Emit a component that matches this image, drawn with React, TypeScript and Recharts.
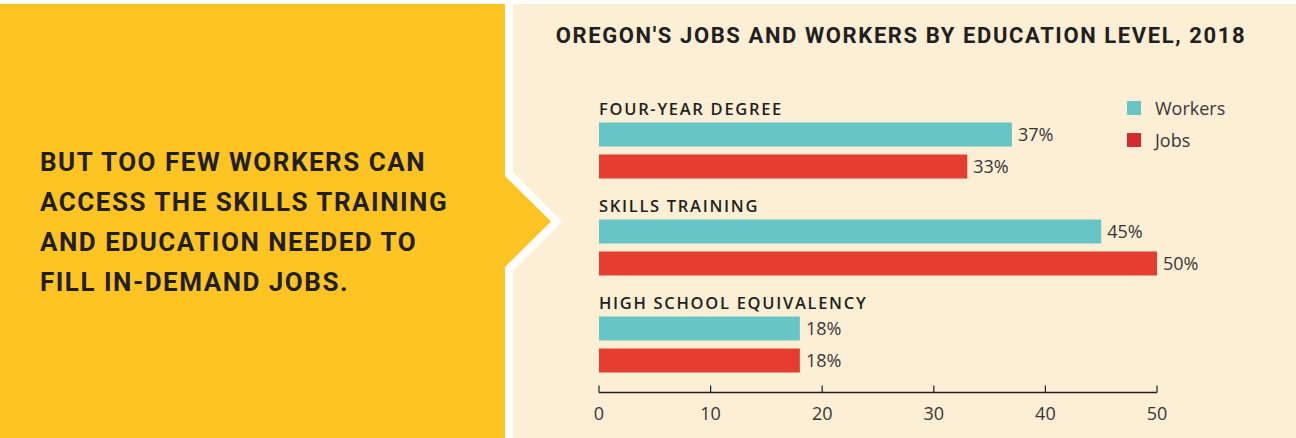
import React from 'react';
import { BarChart, Bar, XAxis, YAxis, LabelList } from 'recharts';

const categories = ['FOUR-YEAR DEGREE', 'SKILLS TRAINING', 'HIGH SCHOOL EQUIVALENCY'];
const workers = [37, 45, 18];
const jobs = [33, 50, 18];
const xTicks = [0, 10, 20, 30, 40, 50];
const title = "OREGON'S JOBS AND WORKERS BY EDUCATION LEVEL, 2018";
const sideLines = [
  'BUT TOO FEW WORKERS CAN',
  'ACCESS THE SKILLS TRAINING',
  'AND EDUCATION NEEDED TO',
  'FILL IN-DEMAND JOBS.',
];
const legendItems = ['Workers', 'Jobs'];

const data = categories.map((c, i) => ({ category: c, Workers: workers[i], Jobs: jobs[i] }));

const TEAL = '#67C6C5';
const RED = '#E63D31';
const RED_LEGEND = '#D52B2E';
const YELLOW = '#FEC423';
const CREAM = '#FDEFD5';
const DARK = '#231F20';
const NUM = '#3A3536';
const legendColors = [TEAL, RED_LEGEND];

const XTick = (props: any) => {
  const { x, y, payload } = props;
  return (
    <g>
      <line x1={x} x2={x} y1={y - 7} y2={y} stroke={DARK} strokeWidth={1.2} />
      <text x={x} y={y + 27} textAnchor="middle" fontFamily="'Open Sans', sans-serif" fontSize={18} fill={NUM}>
        {payload.value}
      </text>
    </g>
  );
};

const CategoryLabel = (props: any) => {
  const { x, y, value } = props;
  return (
    <text x={x} y={y - 8} textAnchor="start" fontFamily="'Open Sans', sans-serif" fontWeight={600} fontSize={16.5} letterSpacing={1.7} fill={DARK}>
      {value}
    </text>
  );
};

export default function App() {
  return (
    <div style={{ position: 'absolute', left: 0, top: 0, width: 1296, height: 438, background: '#ffffff', overflow: 'hidden' }}>
      <div style={{ position: 'absolute', left: 0, top: 4, width: 505, height: 434, background: YELLOW }} />
      <div style={{ position: 'absolute', left: 513, top: 4, width: 783, height: 434, background: CREAM }} />
      <svg style={{ position: 'absolute', left: 0, top: 0 }} width={1296} height={438}>
        <polygon points="505,164 562,221.5 505,279" fill="#ffffff" />
        <polygon points="504,175 551,221.5 504,268" fill={YELLOW} />
        {sideLines.map((l, i) => (
          <text key={i} x={40} y={171 + i * 40} fontFamily="Roboto, sans-serif" fontWeight={700} fontSize={26} letterSpacing={1.5} fill={DARK}>
            {l}
          </text>
        ))}
        <text x={901} y={43} textAnchor="middle" fontFamily="Roboto, sans-serif" fontWeight={700} fontSize={22} letterSpacing={1.6} fill={DARK}>
          {title}
        </text>
      </svg>
      <div style={{ position: 'absolute', left: 1127, top: 92, fontFamily: "'Open Sans', sans-serif" }}>
        {legendItems.map((name, i) => (
          <div key={name} style={{ display: 'flex', alignItems: 'center', height: 32 }}>
            <div style={{ width: 14, height: 14, background: legendColors[i], marginRight: 14 }} />
            <span style={{ fontSize: 18, color: NUM }}>{name}</span>
          </div>
        ))}
      </div>
      <div style={{ position: 'absolute', left: 513, top: 0 }}>
        <BarChart
          width={783}
          height={438}
          data={data}
          layout="vertical"
          margin={{ top: 101.5, right: 139, bottom: 15.5, left: 86 }}
          barGap={8}
          barSize={24}
        >
          <XAxis
            type="number"
            domain={[0, 50]}
            ticks={xTicks}
            height={30}
            tickSize={0}
            tickMargin={0}
            tickLine={false}
            axisLine={{ stroke: DARK, strokeWidth: 1.5 }}
            tick={<XTick />}
            interval={0}
          />
          <YAxis type="category" dataKey="category" hide width={0} />
          <Bar dataKey="Workers" fill={TEAL} isAnimationActive={false}>
            <LabelList dataKey="category" content={<CategoryLabel />} />
            <LabelList dataKey="Workers" position="right" offset={6} formatter={(v: any) => `${v}%`} fill={NUM} fontSize={18} fontFamily="'Open Sans', sans-serif" />
          </Bar>
          <Bar dataKey="Jobs" fill={RED} isAnimationActive={false}>
            <LabelList dataKey="Jobs" position="right" offset={6} formatter={(v: any) => `${v}%`} fill={NUM} fontSize={18} fontFamily="'Open Sans', sans-serif" />
          </Bar>
        </BarChart>
      </div>
    </div>
  );
}
